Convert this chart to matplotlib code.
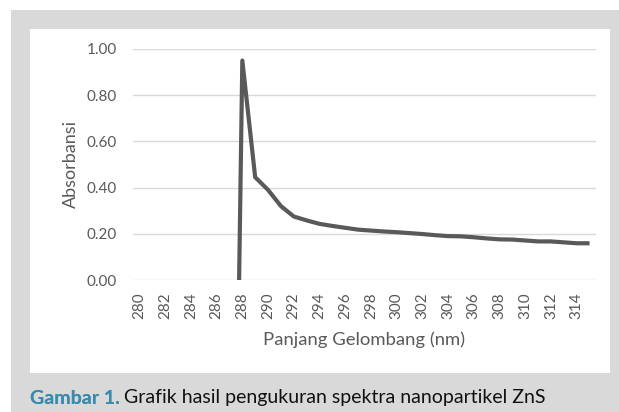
import matplotlib
matplotlib.use("Agg")
import matplotlib.pyplot as plt
from matplotlib.patches import Rectangle

# panjang gelombang (nm) and absorbansi
wavelength = [287.75, 288, 289, 290, 291, 292, 293, 294, 295, 296, 297, 298, 299, 300,
              301, 302, 303, 304, 305, 306, 307, 308, 309, 310, 311, 312, 313, 314, 315]
absorbance = [0.0, 0.95, 0.445, 0.39, 0.32, 0.275, 0.258, 0.243, 0.234, 0.226, 0.218, 0.214,
              0.210, 0.207, 0.203, 0.199, 0.194, 0.190, 0.189, 0.185, 0.180, 0.176, 0.175,
              0.171, 0.167, 0.167, 0.163, 0.159, 0.159]
xticks = list(range(280, 315, 2))
yticks = [0.0, 0.2, 0.4, 0.6, 0.8, 1.0]

plt.rcParams['font.family'] = ['Lato', 'DejaVu Sans']

W, H = 619, 412
fig = plt.figure(figsize=(W/100, H/100), dpi=100)
fig.patch.set_facecolor('white')

# grey frame and white chart panel (pixel units -> figure fraction)
def px(x, y, w, h):
    return (x/W, 1 - (y+h)/H, w/W, h/H)

x0, y0, w0, h0 = px(11, 10, 608, 402)
fig.patches.append(Rectangle((x0, y0), w0, h0, transform=fig.transFigure,
                             facecolor='#d9d9d9', edgecolor='none', zorder=0))
x1, y1, w1, h1 = px(30, 29, 580, 344)
fig.patches.append(Rectangle((x1, y1), w1, h1, transform=fig.transFigure,
                             facecolor='white', edgecolor='none', zorder=1))

ax = fig.add_axes([133/W, (412-280)/H, (596-133)/W, (280-49)/H])
ax.set_zorder(5)
ax.set_facecolor('none')
ax.plot(wavelength, absorbance, color='#595959', lw=3, solid_joinstyle='round',
        solid_capstyle='butt', zorder=3)

ax.set_xlim(279.5, 315.5)
ax.set_ylim(0, 1.0)
ax.set_xticks(xticks)
ax.set_xticklabels([str(t) for t in xticks], rotation=90)
ax.set_yticks(yticks)
ax.set_yticklabels(['%.2f' % v for v in yticks])
ax.grid(axis='y', color='#d9d9d9', lw=1)
ax.set_axisbelow(True)
for s in ax.spines.values():
    s.set_visible(False)
ax.tick_params(length=0, labelsize=11, labelcolor='#595959')
ax.tick_params(axis='y', pad=11.5)
ax.tick_params(axis='x', pad=9)

ax.set_ylabel('Absorbansi', fontsize=13, color='#595959', labelpad=6)
ax.set_xlabel('Panjang Gelombang (nm)', fontsize=13.3, color='#595959', labelpad=9)

t1 = fig.text(30/W, 1 - 398/H, 'Gambar 1.', fontsize=14, fontweight='bold', color='#3a8bb0',
              va='center', ha='left', zorder=6)
fig.add_artist(t1)
ax.annotate('Grafik hasil pengukuran spektra nanopartikel ZnS', xy=(1, 0.5), xycoords=t1,
            xytext=(3, 0), textcoords='offset points', fontsize=14, color='#111111',
            va='center', ha='left', annotation_clip=False)

fig.savefig('out.png', dpi=100, facecolor=fig.get_facecolor())
